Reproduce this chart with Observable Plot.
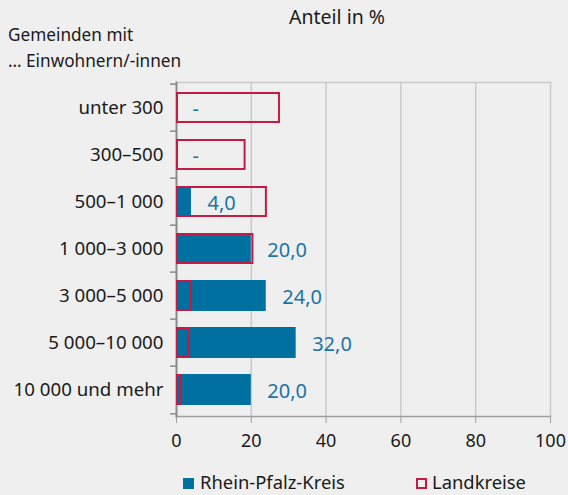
<!DOCTYPE html>
<html><head><meta charset="utf-8">
<script src="https://cdn.jsdelivr.net/npm/d3@7"></script>
<script src="https://cdn.jsdelivr.net/npm/@observablehq/plot@0.6"></script>
<style>
body{margin:0;background:#eeefee;font-family:"Noto Sans",sans-serif;}
#wrap{position:relative;width:568px;height:495px;overflow:hidden;background:#eeefee;}
.t{position:absolute;white-space:nowrap;color:#1a1a1a;}
.sw{position:absolute;box-sizing:border-box;width:11px;height:11px;}
</style></head><body><div id="wrap">
<div id="chart" style="position:absolute;left:0;top:0"></div>
<div class="t" id="title" style="left:289px;top:4px;font-size:19.5px;line-height:26px"></div>
<div class="t" id="sub" style="left:8px;top:22px;font-size:17.2px;line-height:26px"></div>
<div class="sw" style="left:183px;top:478px;background:#0070a0"></div>
<div class="t" id="leg0" style="left:200px;top:469px;font-size:18.4px;line-height:26px"></div>
<div class="sw" style="left:416px;top:478px;border:2px solid #c41a44"></div>
<div class="t" id="leg1" style="left:432px;top:469px;font-size:18.4px;line-height:26px"></div>
</div>
<script>
const title = "Anteil in %";
const subtitleLines = ["Gemeinden mit", "\u2026 Einwohnern/-innen"];
const categories = ["unter 300", "300\u2013500", "500\u20131\u00A0000", "1\u00A0000\u20133\u00A0000", "3\u00A0000\u20135\u00A0000", "5\u00A0000\u201310\u00A0000", "10\u00A0000 und mehr"];
const seriesNames = ["Rhein-Pfalz-Kreis", "Landkreise"];
const rheinPfalz = [0, 0, 4, 20, 24, 32, 20];
const landkreise = [27.8, 18.6, 24.3, 20.7, 4.1, 3.5, 1.6];
const xTicks = [0, 20, 40, 60, 80, 100];

const blue = "#0070a0", red = "#c41a44", labelBlue = "#1a74a6", grid = "#cacaca", axisGray = "#8a8a8a";

document.getElementById("title").textContent = title;
document.getElementById("sub").innerHTML = subtitleLines.join("<br>");
document.getElementById("leg0").textContent = seriesNames[0];
document.getElementById("leg1").textContent = seriesNames[1];

const data = categories.map((c, i) => ({category: c, rp: rheinPfalz[i], lk: landkreise[i]}));
const fmt = v => v === 0 ? "-" : v.toFixed(1).replace(".", ",");
const H = 495, mT = 82, mB = 79;
const step = (H - mT - mB) / categories.length;

const plot = Plot.plot({
  width: 568, height: H,
  marginTop: mT, marginBottom: mB, marginLeft: 176, marginRight: 18,
  style: {background: "transparent", fontFamily: "Noto Sans", fontSize: "17px", color: "#1a1a1a"},
  x: {domain: [0, 100], ticks: xTicks, label: null},
  y: {domain: categories, paddingInner: 0.33, paddingOuter: 0.165, label: null},
  marks: [
    Plot.ruleX(xTicks.slice(1), {stroke: grid, strokeWidth: 1.5}),
    Plot.frame({anchor: "top", stroke: grid, strokeWidth: 1.5}),
    Plot.frame({anchor: "bottom", stroke: "#a0a0a0", strokeWidth: 1.5}),
    Plot.axisX({ticks: xTicks, tickSize: 7, tickPadding: 11, stroke: "#a0a0a0", fontSize: 18, fill: "#1a1a1a", label: null}),
    Plot.axisY({tickSize: 0, tickPadding: 13, fontSize: 18.7, fill: "#1a1a1a", label: null}),
    Plot.axisY({tickSize: 6, tickFormat: () => "", dy: -step / 2, stroke: axisGray, strokeWidth: 1.5, label: null}),
    Plot.axisY({ticks: [categories[categories.length - 1]], tickSize: 6, tickFormat: () => "", dy: step / 2, stroke: axisGray, strokeWidth: 1.5, label: null}),
    Plot.frame({anchor: "left", stroke: axisGray, strokeWidth: 2}),
    Plot.barX(data, {y: "category", x1: 0, x2: "rp", fill: blue}),
    Plot.barX(data, {y: "category", x1: 0, x2: "lk", fill: "none", stroke: red, strokeWidth: 2, insetTop: 1, insetBottom: 1, insetRight: 1, insetLeft: 1}),
    Plot.text(data, {y: "category", x: "rp", text: d => fmt(d.rp), textAnchor: "start", dx: 16, dy: 2, fill: labelBlue, fontSize: 20})
  ]
});
document.getElementById("chart").appendChild(plot);
</script>
</body></html>
